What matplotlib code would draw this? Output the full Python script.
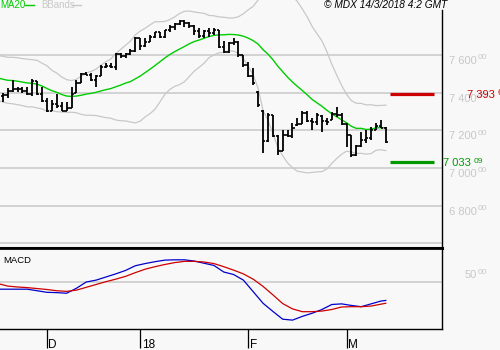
import numpy as np
import matplotlib.pyplot as plt

# FTSE 100, séances du 17/11/2017 au 13/03/2018
opens = [7387, 7380, 7389, 7411, 7419, 7417, 7409, 7395, 7460, 7393,
         7355, 7300, 7338, 7328, 7303, 7320, 7400, 7453, 7500, 7496,
         7465, 7490, 7538, 7544, 7535, 7603, 7593, 7605, 7622,
         7688, 7648, 7671, 7695, 7720, 7697, 7731, 7749, 7762, 7778,
         7769, 7755, 7725, 7701, 7730, 7715, 7731, 7643, 7615, 7665,
         7671, 7598,
         7545, 7490, 7405, 7300, 7141, 7279, 7170, 7092, 7177, 7168,
         7228, 7234, 7294, 7250, 7246, 7275, 7252, 7255, 7289, 7282,
         7231, 7175, 7069, 7115, 7146, 7157, 7203, 7224, 7214]
highs = [7400, 7398, 7425, 7465, 7432, 7428, 7430, 7470, 7460, 7430,
         7370, 7360, 7395, 7350, 7350, 7430, 7467, 7503, 7508, 7503,
         7494, 7547, 7556, 7555, 7609, 7609, 7609, 7630, 7697,
         7689, 7689, 7706, 7724, 7724, 7733, 7759, 7768, 7786, 7786,
         7777, 7759, 7741, 7733, 7741, 7741, 7735, 7672, 7671, 7690,
         7674, 7600,
         7565, 7530, 7410, 7308, 7292, 7282, 7176, 7202, 7202, 7240,
         7265, 7304, 7304, 7265, 7290, 7281, 7265, 7295, 7325, 7290,
         7238, 7175, 7122, 7193, 7202, 7220, 7238, 7255, 7220]
lows = [7360, 7352, 7372, 7405, 7405, 7400, 7390, 7380, 7388, 7350,
        7296, 7300, 7320, 7300, 7300, 7317, 7400, 7450, 7494, 7460,
        7432, 7490, 7529, 7530, 7520, 7582, 7582, 7600, 7618,
        7627, 7645, 7670, 7689, 7689, 7689, 7724, 7733, 7759, 7750,
        7741, 7706, 7689, 7689, 7697, 7706, 7635, 7612, 7610, 7655,
        7589, 7536,
        7485, 7441, 7324, 7078, 7138, 7165, 7070, 7092, 7165, 7160,
        7225, 7234, 7246, 7202, 7228, 7189, 7228, 7255, 7272, 7228,
        7113, 7060, 7062, 7113, 7131, 7149, 7202, 7211, 7131]
closes = [7380, 7389, 7411, 7419, 7417, 7409, 7395, 7460, 7393, 7355,
          7300, 7338, 7328, 7303, 7320, 7394, 7453, 7500, 7496, 7465,
          7490, 7538, 7544, 7535, 7603, 7593, 7605, 7622, 7688,
          7648, 7671, 7695, 7720, 7697, 7731, 7749, 7762, 7778, 7769,
          7755, 7725, 7701, 7730, 7715, 7731, 7643, 7615, 7665, 7671,
          7598, 7545,
          7490, 7450, 7335, 7141, 7279, 7170, 7092, 7177, 7168, 7214,
          7234, 7294, 7250, 7246, 7282, 7252, 7244, 7289, 7282, 7231,
          7175, 7069, 7115, 7146, 7157, 7203, 7224, 7214, 7139]
# 19 clotures avant le 17/11, pour la MM20 et les bandes
prior_closes = [7524, 7526, 7447, 7486, 7505, 7488, 7493, 7488, 7555, 7560,
                7562, 7513, 7530, 7484, 7433, 7415, 7415, 7372, 7387]

month_ticks = [10, 29, 51, 71]
month_labels = ["D", "18", "F", "M"]
price_levels = [7600, 7400, 7200, 7000, 6800]
resistance = 7393.6
support = 7033.09

# MACD (bleu) et signal (rouge), une valeur toutes les 2 seances
macd_idx = list(range(0, 80, 2)) + [79]
macd_line = [-23, -23, -23, -23, -28, -33, -34, -36, -20, 0, 6, 16, 26, 37, 52,
             59, 65, 70, 71, 71, 67, 60, 53, 32, 24, 6, -31, -68, -94, -119,
             -122, -110, -100, -88, -72, -70, -75, -79, -70, -61, -59]
macd_signal = [-5, -13, -16, -18, -21, -24, -28, -30, -26, -17, -8, 1, 9, 18, 30,
               41, 49, 56, 62, 66, 66, 64, 59, 49, 38, 26, 9, -14, -41, -69,
               -86, -95, -95, -93, -88, -80, -79, -79, -77, -71, -68]

plt.rcParams['font.family'] = ['Liberation Sans', 'DejaVu Sans']
W, H = 500, 350
BG = '#f8f8f8'
GRID = '#c8c8c8'

# MM20 + bandes de Bollinger
full = np.array(prior_closes + closes, dtype=float)
win = np.lib.stride_tricks.sliding_window_view(full, 20)
ma20 = win.mean(axis=1)
sd = win.std(axis=1)
upper = ma20 + 2 * sd
lower = ma20 - 2 * sd

fig = plt.figure(figsize=(5, 3.5), dpi=100, facecolor=BG)
ax = fig.add_axes([0, 1 - 248 / H, 442 / W, 248 / H], facecolor=BG)
ax2 = fig.add_axes([0, 1 - 329 / H, 442 / W, 81 / H], facecolor=BG)

x = np.arange(len(closes))
for p in price_levels + [6600]:
    ax.axhline(p, color=GRID, lw=1.1, zorder=0)
ax.plot(x, upper, color=GRID, lw=0.9)
ax.plot(x, lower, color=GRID, lw=0.9)
ax.plot(x, ma20, color='#00cc00', lw=1.0)
ax.vlines(x, lows, highs, color='k', lw=1.3)
ax.hlines(opens, x - 0.45, x, color='k', lw=1.2)
ax.hlines(closes, x, x + 0.45, color='k', lw=1.2)

ax.hlines(resistance, 79.9, 88.8, color='#cc0000', lw=2.3)
ax.hlines(support, 79.9, 88.8, color='#009900', lw=2.3)

ax.set_xlim(0.43, 90.45)
ax.set_ylim(6575, 7892)
ax.set_xticks([])
ax.set_yticks([])
for s in ['top', 'left']:
    ax.spines[s].set_visible(False)
ax.spines['right'].set_bounds(6575, 7839)
ax.spines['right'].set_linewidth(1.0)
ax.spines['bottom'].set_linewidth(2.2)

for p in price_levels:
    lab = f"{p // 1000} {p % 1000:03d}"
    ax.annotate(lab, xy=(1, p), xycoords=('axes fraction', 'data'),
                xytext=(35, -6), textcoords='offset pixels', ha='right',
                va='center', fontsize=8, color=GRID, annotation_clip=False)
    ax.annotate("00", xy=(1, p), xycoords=('axes fraction', 'data'),
                xytext=(36, -3), textcoords='offset pixels', ha='left',
                va='center', fontsize=6, color=GRID, annotation_clip=False)

ax.annotate("7 393", xy=(1, resistance), xycoords=('axes fraction', 'data'),
            xytext=(25, -1), textcoords='offset pixels', ha='left', va='center',
            fontsize=8, color='#cc0000', annotation_clip=False)
ax.annotate("60", xy=(1, resistance), xycoords=('axes fraction', 'data'),
            xytext=(56, 1), textcoords='offset pixels', ha='left', va='center',
            fontsize=6.5, color='#cc0000', annotation_clip=False)
ax.annotate("7 033", xy=(1, support), xycoords=('axes fraction', 'data'),
            xytext=(1, -1), textcoords='offset pixels', ha='left', va='center',
            fontsize=8, color='#009900', annotation_clip=False)
ax.annotate("09", xy=(1, support), xycoords=('axes fraction', 'data'),
            xytext=(32, 0.5), textcoords='offset pixels', ha='left', va='center',
            fontsize=6, color='#009900', annotation_clip=False)

# panneau MACD
ax2.axhline(0, color=GRID, lw=1.1, zorder=0)
ax2.plot(macd_idx, macd_line, color='#0000cc', lw=0.9)
ax2.plot(macd_idx, macd_signal, color='#cc0000', lw=0.9)
ax2.set_xlim(0.43, 90.45)
ax2.set_ylim(-150.4, 108.8)
ax2.set_yticks([])
ax2.spines['left'].set_visible(False)
ax2.spines['top'].set_linewidth(2.0)
ax2.spines['right'].set_linewidth(1.0)
ax2.spines['bottom'].set_linewidth(1.0)
ax2.set_xticks(month_ticks)
ax2.set_xticklabels([])
ax2.tick_params(axis='x', length=13.7, width=0.9, color='k', direction='out')
for t, lab in zip(month_ticks, month_labels):
    ax2.annotate(lab, xy=(t, 0), xycoords=('data', 'axes fraction'),
                 xytext=(1.5, -16), textcoords='offset pixels', ha='left',
                 va='center', fontsize=8.5, color='k', annotation_clip=False)
ax2.text(3 / 442, 1 - 12.7 / 81, "MACD", transform=ax2.transAxes,
         fontsize=6.8, va='center', ha='left')
ax2.annotate("50", xy=(1, 50), xycoords=('axes fraction', 'data'),
             xytext=(35, -9), textcoords='offset pixels', ha='right',
             va='center', fontsize=8, color=GRID, annotation_clip=False)
ax2.annotate("00", xy=(1, 50), xycoords=('axes fraction', 'data'),
             xytext=(36, -6), textcoords='offset pixels', ha='left',
             va='center', fontsize=6, color=GRID, annotation_clip=False)

# légende et copyright
fig.text(0, 1 - 4.5 / H, "MA20", color='#00cc00', fontsize=7, va='center', ha='left')
fig.add_artist(plt.Line2D([25 / W, 34 / W], [1 - 4.7 / H] * 2, color='#00cc00', lw=1.0))
fig.text(41 / W, 1 - 4.5 / H, "BBands", color=GRID, fontsize=7, va='center', ha='left')
fig.add_artist(plt.Line2D([72 / W, 81 / W], [1 - 4.7 / H] * 2, color=GRID, lw=1.0))
fig.text(447 / W, 1 - 5 / H, "© MDX 14/3/2018 4:2 GMT", style='italic',
         fontsize=7.3, va='center', ha='right')

fig.savefig('out.png', dpi=100, facecolor=BG)
